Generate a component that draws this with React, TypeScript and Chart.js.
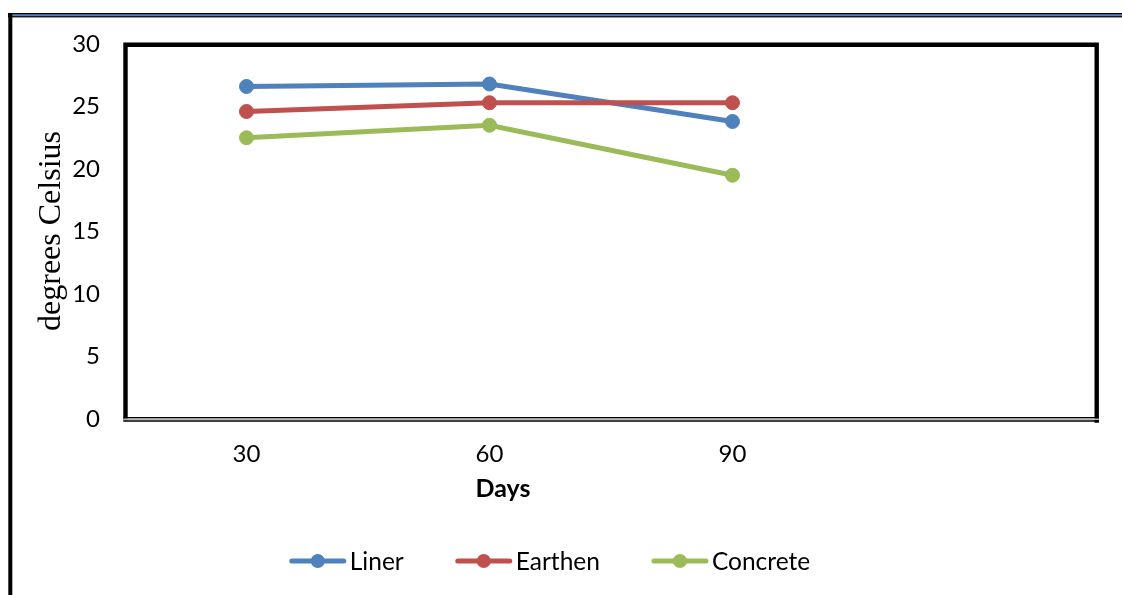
import { useEffect, useRef } from "react";
import { Chart, registerables } from "chart.js";

Chart.register(...registerables);

// Category axis: sampling days (a trailing empty slot keeps the plot wide)
const days = ["30", "60", "90", ""];

// Temperature readings, degrees Celsius
const linerTemps = [26.6, 26.8, 23.8];
const earthenTemps = [24.6, 25.3, 25.3];
const concreteTemps = [22.5, 23.5, 19.5];

const seriesNames = ["Liner", "Earthen", "Concrete"];
const seriesColors = ["#4F81BD", "#C0504D", "#9BBB59"];

// Value axis range and tick step
const yMin = 0;
const yMax = 30;
const yStep = 5;

const yTitle = "degrees Celsius";
const xTitle = "Days";

const SANS = "Lato, 'Open Sans', sans-serif";
const SERIF = "'Liberation Serif', 'Times New Roman', serif";

const W = 1122;
const H = 595;

const decorPlugin = {
  id: "decor",
  beforeDraw(chart: any) {
    const ctx = chart.ctx;
    ctx.save();
    ctx.fillStyle = "#ffffff";
    ctx.fillRect(0, 0, W, H);
    // outer page frame: black/blue/black rule at top, heavy rule at left
    ctx.fillStyle = "#000000";
    ctx.fillRect(8, 13, W - 8, 4.4);
    ctx.fillStyle = "#4F81BD";
    ctx.fillRect(12, 14.2, W - 12, 2);
    ctx.fillStyle = "#000000";
    ctx.fillRect(8.3, 13, 4, H - 13);
    ctx.restore();
  },
  beforeDatasetsDraw(chart: any) {
    const { ctx, chartArea } = chart;
    const { left, right, top, bottom } = chartArea;
    ctx.save();
    // plot-area border
    ctx.strokeStyle = "#000000";
    ctx.lineWidth = 4.4;
    ctx.lineCap = "square";
    ctx.beginPath();
    ctx.moveTo(left + 0.5, bottom - 1);
    ctx.lineTo(left + 0.5, top + 0.7);
    ctx.lineTo(right - 0.3, top + 0.7);
    ctx.lineTo(right - 0.3, bottom + 1.5);
    ctx.stroke();
    // double rule along the bottom
    ctx.lineCap = "butt";
    ctx.lineWidth = 1.4;
    ctx.beginPath();
    ctx.moveTo(left - 1.7, bottom - 1.2);
    ctx.lineTo(right + 1.9, bottom - 1.2);
    ctx.stroke();
    ctx.strokeStyle = "#b8b8b8";
    ctx.lineWidth = 1.4;
    ctx.beginPath();
    ctx.moveTo(left - 1.7, bottom + 0.3);
    ctx.lineTo(right + 1.9, bottom + 0.3);
    ctx.stroke();
    ctx.strokeStyle = "#000000";
    ctx.lineWidth = 1.6;
    ctx.beginPath();
    ctx.moveTo(left - 1.7, bottom + 2);
    ctx.lineTo(right + 1.9, bottom + 2);
    ctx.stroke();
    ctx.restore();
  },
  afterDraw(chart: any) {
    const ctx = chart.ctx;
    ctx.save();
    ctx.fillStyle = "#000000";

    // value-axis title
    ctx.save();
    ctx.translate(60, 231);
    ctx.rotate(-Math.PI / 2);
    ctx.font = `32px ${SERIF}`;
    ctx.textAlign = "center";
    ctx.textBaseline = "alphabetic";
    ctx.fillText(yTitle, 0, 0);
    ctx.restore();

    // category-axis title
    ctx.font = `bold 25px ${SANS}`;
    ctx.textAlign = "center";
    ctx.textBaseline = "alphabetic";
    ctx.fillText(xTitle, 503, 497);

    // legend row
    ctx.font = `24.5px ${SANS}`;
    ctx.textAlign = "left";
    const lineLen = 56;
    const textGap = 4;
    const itemGap = 52;
    const widths = chart.data.datasets.map((d: any) => ctx.measureText(d.label).width);
    const total =
      widths.reduce((a: number, w: number) => a + lineLen + textGap + w, 0) +
      itemGap * (widths.length - 1);
    let x = 550 - total / 2;
    const ly = 561;
    chart.data.datasets.forEach((d: any, i: number) => {
      ctx.strokeStyle = d.borderColor;
      ctx.lineWidth = 5;
      ctx.lineCap = "round";
      ctx.beginPath();
      ctx.moveTo(x + 2, ly);
      ctx.lineTo(x + lineLen - 2, ly);
      ctx.stroke();
      ctx.fillStyle = d.borderColor;
      ctx.beginPath();
      ctx.arc(x + lineLen / 2, ly, 7, 0, Math.PI * 2);
      ctx.fill();
      ctx.fillStyle = "#000000";
      ctx.fillText(d.label, x + lineLen + textGap, 569.5);
      x += lineLen + textGap + widths[i] + itemGap;
    });
    ctx.restore();
  },
};

export default function App() {
  const canvasRef = useRef<HTMLCanvasElement | null>(null);

  useEffect(() => {
    const canvas = canvasRef.current;
    if (!canvas) return;
    const series = [linerTemps, earthenTemps, concreteTemps];
    const chart = new Chart(canvas, {
      type: "line",
      data: {
        labels: days,
        datasets: series.map((values, i) => ({
          label: seriesNames[i],
          data: values,
          borderColor: seriesColors[i],
          backgroundColor: seriesColors[i],
          pointBackgroundColor: seriesColors[i],
          pointBorderColor: seriesColors[i],
          borderWidth: 5,
          pointRadius: 7,
          pointBorderWidth: 1,
          tension: 0,
          fill: false,
          order: series.length - i,
        })),
      },
      options: {
        responsive: false,
        animation: false,
        devicePixelRatio: 1,
        layout: { padding: { left: 0, right: 25, top: 44, bottom: 0 } },
        plugins: {
          legend: { display: false },
          title: { display: false },
          tooltip: { enabled: false },
        },
        scales: {
          x: {
            type: "category",
            offset: true,
            grid: { display: false, drawTicks: false },
            border: { display: false },
            ticks: {
              color: "#000000",
              font: { family: SANS, size: 24 },
              padding: 21,
              maxRotation: 0,
              autoSkip: false,
            },
            afterFit: (scale: any) => {
              scale.height = 176;
            },
          },
          y: {
            min: yMin,
            max: yMax,
            grid: { display: false, drawTicks: false },
            border: { display: false },
            ticks: {
              stepSize: yStep,
              color: "#000000",
              font: { family: SANS, size: 24 },
              padding: 25,
            },
            afterFit: (scale: any) => {
              scale.width = 125;
            },
          },
        },
      },
      plugins: [decorPlugin],
    });
    return () => chart.destroy();
  }, []);

  return (
    <div style={{ position: "absolute", left: 0, top: 0, width: W, height: H, background: "#fff" }}>
      <canvas ref={canvasRef} width={W} height={H} style={{ display: "block" }} />
    </div>
  );
}
